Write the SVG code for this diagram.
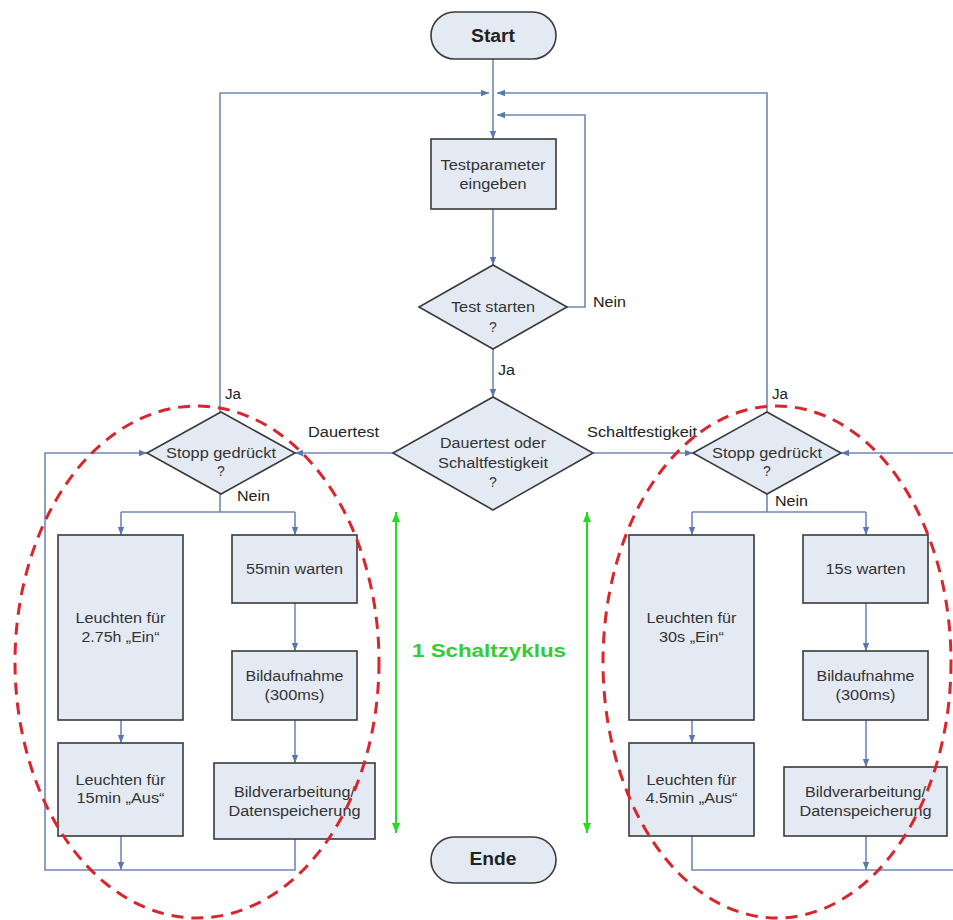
<svg xmlns="http://www.w3.org/2000/svg" width="953" height="920" viewBox="0 0 953 920">
  <style>
    .box { fill: #e4eaf4; stroke: #3a3a3a; stroke-width: 1.6; }
    .conn { fill: none; stroke: #7088bb; stroke-width: 1.6; }
    .t { font-family: "Liberation Sans", Arial, sans-serif; font-size: 14px; fill: #333; text-anchor: middle; }
    .lbl { font-family: "Liberation Sans", Arial, sans-serif; font-size: 14px; fill: #222; }
    .b { font-family: "Liberation Sans", Arial, sans-serif; font-size: 18px; font-weight: bold; fill: #222; text-anchor: middle; }
    .loop { fill: none; stroke: #d8262c; stroke-width: 3; stroke-dasharray: 12 8; }
    .cycle { fill: none; stroke: #22dd22; stroke-width: 2; }
  </style>
  <defs>
    <marker id="arr" viewBox="0 0 10 10" refX="10" refY="5" markerWidth="8" markerHeight="8" orient="auto" markerUnits="userSpaceOnUse">
      <path d="M0,1 L10,5 L0,9 z" fill="#5a78b0"/>
    </marker>
    <marker id="garr" viewBox="0 0 10 10" refX="10" refY="5" markerWidth="10" markerHeight="10" orient="auto-start-reverse" markerUnits="userSpaceOnUse">
      <path d="M0,1 L10,5 L0,9 z" fill="#22dd22"/>
    </marker>
  </defs>
  <rect width="953" height="920" fill="#ffffff"/>

  <!-- connectors -->
  <g id="connectors">
    <path class="conn" d="M493,59 V139" marker-end="url(#arr)"/>
    <path class="conn" d="M220,412 V93 H489" marker-end="url(#arr)"/>
    <path class="conn" d="M767,412 V93 H497" marker-end="url(#arr)"/>
    <path class="conn" d="M567,307 H585 V115 H497" marker-end="url(#arr)"/>
    <path class="conn" d="M493,209 V265" marker-end="url(#arr)"/>
    <path class="conn" d="M493,349 V397" marker-end="url(#arr)"/>
    <path class="conn" d="M393,453 H295" marker-end="url(#arr)"/>
    <path class="conn" d="M593,453 H693" marker-end="url(#arr)"/>
    <!-- Dauertest branch -->
    <path class="conn" d="M220,494 V512 M121,512 H295"/>
    <path class="conn" d="M121,512 V535" marker-end="url(#arr)"/>
    <path class="conn" d="M295,512 V535" marker-end="url(#arr)"/>
    <path class="conn" d="M121,720 V743" marker-end="url(#arr)"/>
    <path class="conn" d="M295,603 V651" marker-end="url(#arr)"/>
    <path class="conn" d="M295,720 V763" marker-end="url(#arr)"/>
    <path class="conn" d="M121,836 V870" marker-end="url(#arr)"/>
    <path class="conn" d="M295,839 V870 H45 V453 H147" marker-end="url(#arr)"/>
    <!-- Schaltfestigkeit branch -->
    <path class="conn" d="M767,494 V512 M692,512 H866"/>
    <path class="conn" d="M692,512 V535" marker-end="url(#arr)"/>
    <path class="conn" d="M866,512 V535" marker-end="url(#arr)"/>
    <path class="conn" d="M692,720 V743" marker-end="url(#arr)"/>
    <path class="conn" d="M866,603 V651" marker-end="url(#arr)"/>
    <path class="conn" d="M866,720 V767" marker-end="url(#arr)"/>
    <path class="conn" d="M866,836 V870" marker-end="url(#arr)"/>
    <path class="conn" d="M692,836 V870 H960 V453 H841" marker-end="url(#arr)"/>
  </g>

  <!-- edge labels -->
  <g id="labels">
    <text class="lbl" x="593" y="307" textLength="33" lengthAdjust="spacingAndGlyphs">Nein</text>
    <text class="lbl" x="498" y="375" textLength="17" lengthAdjust="spacingAndGlyphs">Ja</text>
    <text class="lbl" x="308" y="437" textLength="71" lengthAdjust="spacingAndGlyphs">Dauertest</text>
    <text class="lbl" x="587" y="437" textLength="110" lengthAdjust="spacingAndGlyphs">Schaltfestigkeit</text>
    <text class="lbl" x="225" y="399" textLength="16" lengthAdjust="spacingAndGlyphs">Ja</text>
    <text class="lbl" x="237" y="501" textLength="33" lengthAdjust="spacingAndGlyphs">Nein</text>
    <text class="lbl" x="772" y="399" textLength="16" lengthAdjust="spacingAndGlyphs">Ja</text>
    <text class="lbl" x="775" y="506" textLength="33" lengthAdjust="spacingAndGlyphs">Nein</text>
  </g>

  <!-- terminals -->
  <g id="start">
    <rect class="box" x="431" y="12" width="125" height="47" rx="23.5"/>
    <text class="b" x="493" y="42" textLength="44" lengthAdjust="spacingAndGlyphs">Start</text>
  </g>
  <g id="ende">
    <rect class="box" x="431" y="837" width="125" height="46" rx="23"/>
    <text class="b" x="493" y="865" textLength="47" lengthAdjust="spacingAndGlyphs">Ende</text>
  </g>

  <!-- main column -->
  <g id="testparameter">
    <rect class="box" x="431" y="139" width="125" height="70"/>
    <text class="t" x="493" y="170" textLength="105" lengthAdjust="spacingAndGlyphs">Testparameter</text>
    <text class="t" x="493" y="189" textLength="67" lengthAdjust="spacingAndGlyphs">eingeben</text>
  </g>
  <g id="test-starten">
    <polygon class="box" points="493,265 567,307 493,349 419,307"/>
    <text class="t" x="493" y="312" textLength="84" lengthAdjust="spacingAndGlyphs">Test starten</text>
    <text class="t" x="493" y="332">?</text>
  </g>
  <g id="modus">
    <polygon class="box" points="493,397 593,453 493,510 393,453"/>
    <text class="t" x="493" y="448" textLength="106" lengthAdjust="spacingAndGlyphs">Dauertest oder</text>
    <text class="t" x="493" y="468" textLength="110" lengthAdjust="spacingAndGlyphs">Schaltfestigkeit</text>
    <text class="t" x="493" y="487">?</text>
  </g>

  <!-- Dauertest loop -->
  <g id="stopp-dauer">
    <polygon class="box" points="221,412 295,453 221,494 147,453"/>
    <text class="t" x="221" y="458" textLength="110" lengthAdjust="spacingAndGlyphs">Stopp gedrückt</text>
    <text class="t" x="221" y="476">?</text>
  </g>
  <g id="ein-dauer">
    <rect class="box" x="58" y="535" width="125" height="185"/>
    <text class="t" x="120.5" y="623" textLength="90" lengthAdjust="spacingAndGlyphs">Leuchten für</text>
    <text class="t" x="120.5" y="642" textLength="78" lengthAdjust="spacingAndGlyphs">2.75h „Ein“</text>
  </g>
  <g id="aus-dauer">
    <rect class="box" x="58" y="743" width="125" height="93"/>
    <text class="t" x="120.5" y="785" textLength="90" lengthAdjust="spacingAndGlyphs">Leuchten für</text>
    <text class="t" x="120.5" y="803" textLength="88" lengthAdjust="spacingAndGlyphs">15min „Aus“</text>
  </g>
  <g id="warten-dauer">
    <rect class="box" x="232" y="535" width="125" height="68"/>
    <text class="t" x="294.5" y="574" textLength="97" lengthAdjust="spacingAndGlyphs">55min warten</text>
  </g>
  <g id="bild-dauer">
    <rect class="box" x="232" y="651" width="125" height="69"/>
    <text class="t" x="294.5" y="681" textLength="98" lengthAdjust="spacingAndGlyphs">Bildaufnahme</text>
    <text class="t" x="294.5" y="700" textLength="60" lengthAdjust="spacingAndGlyphs">(300ms)</text>
  </g>
  <g id="verarbeitung-dauer">
    <rect class="box" x="214" y="763" width="161" height="76"/>
    <text class="t" x="294.5" y="797" textLength="121" lengthAdjust="spacingAndGlyphs">Bildverarbeitung/</text>
    <text class="t" x="294.5" y="816" textLength="132" lengthAdjust="spacingAndGlyphs">Datenspeicherung</text>
  </g>

  <!-- Schaltfestigkeit loop -->
  <g id="stopp-schalt">
    <polygon class="box" points="767,412 841,453 767,494 693,453"/>
    <text class="t" x="767" y="458" textLength="110" lengthAdjust="spacingAndGlyphs">Stopp gedrückt</text>
    <text class="t" x="767" y="476">?</text>
  </g>
  <g id="ein-schalt">
    <rect class="box" x="629" y="535" width="125" height="185"/>
    <text class="t" x="691.5" y="623" textLength="90" lengthAdjust="spacingAndGlyphs">Leuchten für</text>
    <text class="t" x="691.5" y="642" textLength="65" lengthAdjust="spacingAndGlyphs">30s „Ein“</text>
  </g>
  <g id="aus-schalt">
    <rect class="box" x="629" y="743" width="125" height="93"/>
    <text class="t" x="691.5" y="785" textLength="90" lengthAdjust="spacingAndGlyphs">Leuchten für</text>
    <text class="t" x="691.5" y="803" textLength="92" lengthAdjust="spacingAndGlyphs">4.5min „Aus“</text>
  </g>
  <g id="warten-schalt">
    <rect class="box" x="803" y="535" width="125" height="68"/>
    <text class="t" x="865.5" y="574" textLength="80" lengthAdjust="spacingAndGlyphs">15s warten</text>
  </g>
  <g id="bild-schalt">
    <rect class="box" x="803" y="651" width="125" height="69"/>
    <text class="t" x="865.5" y="681" textLength="98" lengthAdjust="spacingAndGlyphs">Bildaufnahme</text>
    <text class="t" x="865.5" y="700" textLength="60" lengthAdjust="spacingAndGlyphs">(300ms)</text>
  </g>
  <g id="verarbeitung-schalt">
    <rect class="box" x="784" y="767" width="163" height="69"/>
    <text class="t" x="865.5" y="797" textLength="121" lengthAdjust="spacingAndGlyphs">Bildverarbeitung/</text>
    <text class="t" x="865.5" y="816" textLength="132" lengthAdjust="spacingAndGlyphs">Datenspeicherung</text>
  </g>

  <!-- switching cycle annotation -->
  <g id="zyklus">
    <path class="cycle" d="M396,512 V833" marker-start="url(#garr)" marker-end="url(#garr)"/>
    <path class="cycle" d="M587,512 V833" marker-start="url(#garr)" marker-end="url(#garr)"/>
    <text x="489" y="657" font-family="'Liberation Sans', Arial, sans-serif" font-size="18" font-weight="bold" fill="#33cc33" text-anchor="middle" textLength="154" lengthAdjust="spacingAndGlyphs">1 Schaltzyklus</text>
  </g>

  <!-- loop outlines -->
  <g id="loops">
    <ellipse class="loop" cx="197" cy="662" rx="182" ry="256"/>
    <ellipse class="loop" cx="777" cy="662" rx="174" ry="256"/>
  </g>
</svg>
